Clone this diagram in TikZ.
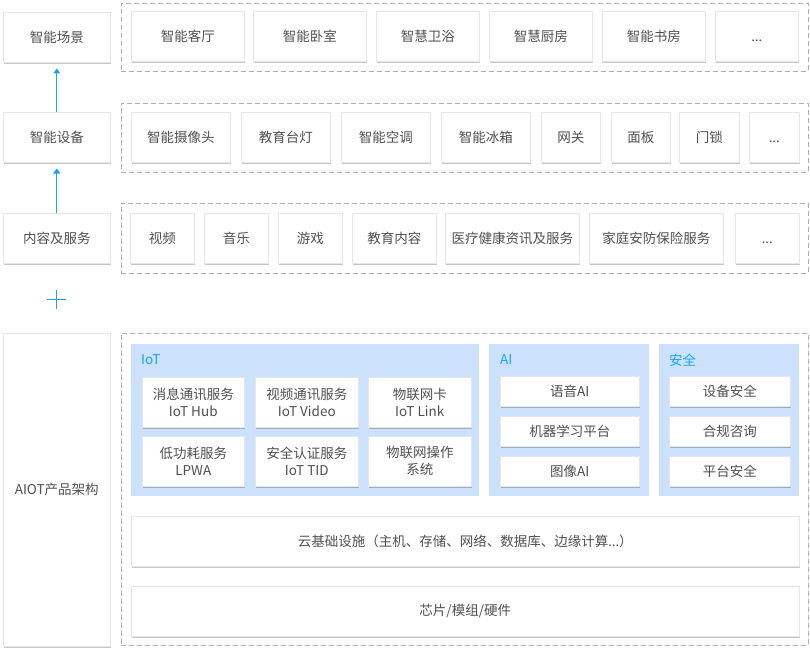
\documentclass[tikz,border=0pt]{standalone}
\usepackage{fontspec}
\setmainfont{Noto Sans CJK SC}
\newfontfamily\latf{Noto Sans}
\usetikzlibrary{shadows,arrows.meta}
\definecolor{txt}{HTML}{505050}
\definecolor{bord}{HTML}{E6E6E6}
\definecolor{dashc}{HTML}{B0B0B0}
\definecolor{panelc}{HTML}{CCE1FB}
\definecolor{accent}{HTML}{1AA3F5}
\newcommand\fs{\fontsize{13.5}{17}\selectfont}
\newcommand\dts{{\latf ...}}
\newcommand\morebox{\vphantom{国}\dts}
\tikzset{
  box/.style={draw=bord, line width=0.5pt, fill=white, text=txt, font=\fs, align=center, inner sep=0pt,
    drop shadow={shadow xshift=0.5pt, shadow yshift=-1.3pt, fill=black, opacity=0.22}},
  dashbox/.style={draw=dashc, line width=0.7pt, dash pattern=on 5pt off 3pt, inner sep=0pt},
  panel/.style={fill=panelc, draw=none, inner sep=0pt},
  plabel/.style={text=accent, font=\fs, anchor=west, inner sep=0pt},
  arr/.style={draw=accent, line width=1.2pt, -{Triangle[width=7pt,length=5pt]}},
  plusline/.style={draw=accent, line width=0.9pt}
}
\newcommand\bx[7][box]{\node[#1,anchor=north west,minimum width={#5pt-#3pt},minimum height={#6pt-#4pt}] (#2) at (#3,#4) {#7};}
\begin{document}
\begin{tikzpicture}[x=1pt,y=-1pt]
\useasboundingbox (0,0) rectangle (810,650);
% dashed regions
\bx[dashbox]{r1}{121}{3}{808}{71}{}
\bx[dashbox]{r2}{121}{103}{808}{172}{}
\bx[dashbox]{r3}{121}{203}{808}{273}{}
\bx[dashbox]{r4}{121}{333}{808}{645}{}
% left column
\bx{scene}{3}{12}{110}{62}{智能场景}
\bx{device}{3}{112}{110}{162}{智能设备}
\bx{content}{3}{213}{110}{263}{内容及服务}
\bx{aiot}{3}{333}{110}{646}{AIOT产品架构}
% row 1
\bx{a1}{131}{11}{244}{61}{智能客厅}
\bx{a2}{253}{11}{366}{61}{智能卧室}
\bx{a3}{376}{11}{479}{61}{智慧卫浴}
\bx{a4}{489}{11}{592}{61}{智慧厨房}
\bx{a5}{602}{11}{705}{61}{智能书房}
\bx{a6}{715}{11}{798}{61}{\morebox}
% row 2
\bx{b1}{131}{112}{230}{162}{智能摄像头}
\bx{b2}{241}{112}{330}{162}{教育台灯}
\bx{b3}{341}{112}{430}{162}{智能空调}
\bx{b4}{441}{112}{530}{162}{智能冰箱}
\bx{b5}{541}{112}{600}{162}{网关}
\bx{b6}{611}{112}{670}{162}{面板}
\bx{b7}{679}{112}{739}{162}{门锁}
\bx{b8}{749}{112}{799}{162}{\morebox}
% row 3
\bx{c1}{130}{213}{194}{263}{视频}
\bx{c2}{204}{213}{268}{263}{音乐}
\bx{c3}{278}{213}{342}{263}{游戏}
\bx{c4}{352}{213}{436}{263}{教育内容}
\bx{c5}{445}{213}{579}{263}{医疗健康资讯及服务}
\bx{c6}{589}{213}{723}{263}{家庭安防保险服务}
\bx{c7}{735}{213}{799}{263}{\morebox}
% panels
\bx[panel]{iot}{131}{344}{479}{496}{}
\bx[panel]{ai}{489}{344}{649}{496}{}
\bx[panel]{sec}{659}{344}{799}{496}{}
\node[plabel] (iotl) at (141,360) {IoT};
\node[plabel] (ail) at (500,360) {AI};
\node[plabel] (secl) at (669,360) {安全};
% IoT items
\bx{i1}{142}{377}{244}{427}{消息通讯服务\\IoT Hub}
\bx{i2}{255}{377}{358}{427}{视频通讯服务\\IoT Video}
\bx{i3}{368}{377}{471}{427}{物联网卡\\IoT Link}
\bx{i4}{142}{436}{244}{486}{低功耗服务\\LPWA}
\bx{i5}{255}{436}{358}{486}{安全认证服务\\IoT TID}
\bx{i6}{368}{436}{471}{486}{物联网操作\\系统}
% AI items
\bx{ai1}{500}{376}{639}{406}{语音AI}
\bx{ai2}{500}{416}{639}{446}{机器学习平台}
\bx{ai3}{500}{456}{639}{486}{图像AI}
% security items
\bx{s1}{669}{376}{790}{406}{设备安全}
\bx{s2}{669}{416}{790}{446}{合规咨询}
\bx{s3}{669}{456}{790}{486}{平台安全}
% base layers
\bx{cloud}{131}{516}{799}{566}{云基础设施（主机、存储、网络、数据库、边缘计算\dts ）}
\bx{chip}{131}{586}{799}{636}{芯片/模组/硬件}
% arrows
\draw[arr, shorten >=6pt] (device.north) -- (scene.south);
\draw[arr, shorten >=6pt] (content.north) -- (device.south);
% plus sign
\coordinate (plus) at (56,299);
\draw[plusline] ([xshift=-9.5pt]plus) -- ([xshift=9.5pt]plus);
\draw[plusline] ([yshift=-9.5pt]plus) -- ([yshift=9.5pt]plus);
\end{tikzpicture}
\end{document}
